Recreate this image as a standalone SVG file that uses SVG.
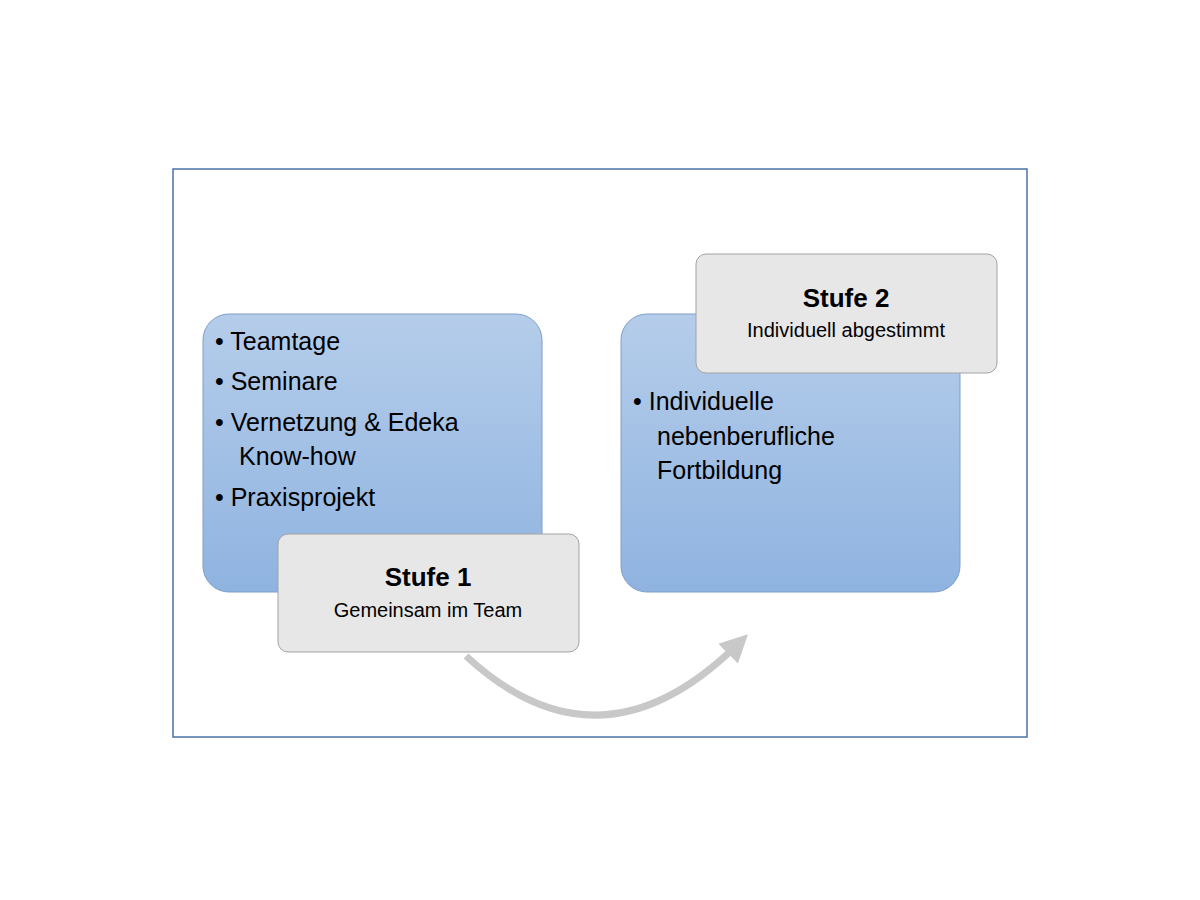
<svg xmlns="http://www.w3.org/2000/svg" width="1200" height="900" viewBox="0 0 1200 900">
<defs>
<linearGradient id="g" x1="0" y1="0" x2="0" y2="1"><stop offset="0" stop-color="#b5cdea"/><stop offset="1" stop-color="#8fb3e0"/></linearGradient>
<marker id="ah" markerWidth="4" markerHeight="4" refX="2" refY="2" orient="auto" markerUnits="strokeWidth"><path d="M0,0 L4,2 L0,4 z" fill="#c8c8c8"/></marker>
<style>
.big{fill:url(#g);stroke:#7f9fc8;stroke-width:1}
.lab{fill:#e8e7e8;stroke:#a3a3a3;stroke-width:1}
text{font-family:"Liberation Sans",Arial,sans-serif;fill:#000}
.b{font-size:25px}
.t{font-size:26px;font-weight:bold;text-anchor:middle}
.s{font-size:20px;text-anchor:middle}
</style>
</defs>
<rect width="1200" height="900" fill="#fff"/>
<rect x="173" y="169" width="854" height="568" fill="none" stroke="#4a73a3" stroke-width="1.5"/>
<g id="connectors"><path d="M466,656 Q600,780 738,644" fill="none" stroke="#c8c8c8" stroke-width="7" marker-end="url(#ah)"/></g>
<g id="box1"><rect class="big" x="203" y="314" width="339" height="278" rx="26"/>
<text class="b" x="215" y="350">• Teamtage</text>
<text class="b" x="215" y="390">• Seminare</text>
<text class="b" x="215" y="431">• Vernetzung &amp; Edeka</text>
<text class="b" x="239" y="465">Know-how</text>
<text class="b" x="215" y="506">• Praxisprojekt</text></g>
<g id="label1"><rect class="lab" x="278" y="534" width="301" height="118" rx="10"/>
<text class="t" x="428" y="586">Stufe 1</text><text class="s" x="428" y="617">Gemeinsam im Team</text></g>
<g id="box2"><rect class="big" x="621" y="314" width="339" height="278" rx="26"/>
<text class="b" x="633" y="410">• Individuelle</text>
<text class="b" x="657" y="445">nebenberufliche</text>
<text class="b" x="657" y="479">Fortbildung</text></g>
<g id="label2"><rect class="lab" x="696" y="254" width="301" height="119" rx="10"/>
<text class="t" x="846" y="307">Stufe 2</text><text class="s" x="846" y="337">Individuell abgestimmt</text></g>
</svg>
